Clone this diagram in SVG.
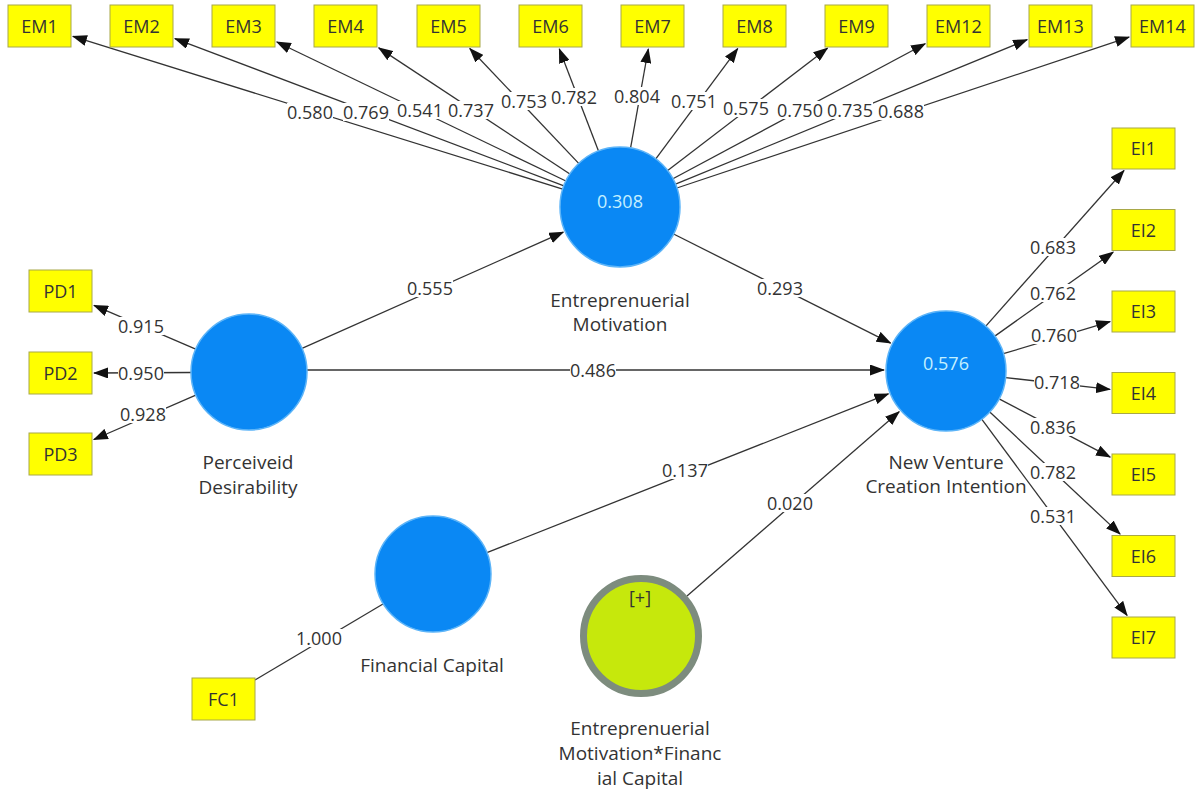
<svg xmlns="http://www.w3.org/2000/svg" width="1195" height="790" viewBox="0 0 1195 790">
<style>
text{font-family:"Open Sans","Noto Sans","Liberation Sans",sans-serif;fill:#333}
.ln{stroke:#333;stroke-width:1.3;fill:none}
.ar{marker-end:url(#ah)}
.bx{fill:#ffff00;stroke:#a8a848;stroke-width:1}
.bt{font-size:18px;text-anchor:middle}
.lv{fill:#0a88f4;stroke:#5cb4f8;stroke-width:1.5}
.nl{font-size:19px;text-anchor:middle}
.val{font-size:18px;text-anchor:middle;fill:#c4f0ff}
.lb rect{fill:#fff}
.lb text{font-size:18px;text-anchor:middle}
</style>
<defs>
<marker id="ah" viewBox="0 0 15 11" markerWidth="15" markerHeight="11" refX="14" refY="5.5" orient="auto" markerUnits="userSpaceOnUse">
<path d="M0,0 L15,5.5 L0,11 z" fill="#111"/>
</marker>
</defs>
<rect width="1195" height="790" fill="#fff"/>
<g id="connectors">
<line class="ln ar" x1="562.7" y1="189.1" x2="72.9" y2="36.4"/>
<line class="ln ar" x1="563.9" y1="185.8" x2="174.9" y2="38.6"/>
<line class="ln ar" x1="565.9" y1="181" x2="276.8" y2="42"/>
<line class="ln ar" x1="569.9" y1="174" x2="378.7" y2="47.9"/>
<line class="ln ar" x1="578.7" y1="163.4" x2="469.8" y2="48.5"/>
<line class="ln ar" x1="598.5" y1="151" x2="559.3" y2="48.9"/>
<line class="ln ar" x1="630.6" y1="147.9" x2="648.3" y2="49"/>
<line class="ln ar" x1="655.8" y1="158.8" x2="737.7" y2="48.6"/>
<line class="ln ar" x1="667.7" y1="170.5" x2="827.5" y2="48.2"/>
<line class="ln ar" x1="672.9" y1="178.7" x2="925.2" y2="43.7"/>
<line class="ln ar" x1="675.5" y1="184.2" x2="1027.2" y2="39.7"/>
<line class="ln ar" x1="676.9" y1="188" x2="1129.1" y2="37.1"/>
<line class="ln ar" x1="195.7" y1="349.1" x2="94" y2="305.4"/>
<line class="ln ar" x1="191" y1="372.5" x2="94" y2="373"/>
<line class="ln ar" x1="195.8" y1="395.1" x2="93.8" y2="439.5"/>
<line class="ln ar" x1="985.8" y1="326.1" x2="1124" y2="170.5"/>
<line class="ln ar" x1="994.8" y1="336.1" x2="1113.2" y2="252.2"/>
<line class="ln ar" x1="1003.4" y1="353.7" x2="1110.1" y2="321.6"/>
<line class="ln ar" x1="1005.6" y1="377.6" x2="1110" y2="389.3"/>
<line class="ln ar" x1="999.1" y1="398.8" x2="1110.2" y2="457.1"/>
<line class="ln ar" x1="989.8" y1="412" x2="1120.1" y2="534.1"/>
<line class="ln ar" x1="981.7" y1="419.2" x2="1127.1" y2="615.4"/>
<line class="ln ar" x1="302" y1="348.4" x2="563.3" y2="232.2"/>
<line class="ln ar" x1="673.6" y1="234" x2="890.6" y2="343.1"/>
<line class="ln ar" x1="307" y1="370" x2="884" y2="370"/>
<line class="ln ar" x1="486.9" y1="552.7" x2="888.4" y2="393.8"/>
<line class="ln ar" x1="687" y1="596" x2="899.2" y2="411.7"/>
<line class="ln" x1="383" y1="604" x2="255" y2="680"/>
<g class="lb">
<rect x="287" y="103" width="46" height="18"/><text x="310" y="118.5">0.580</text>
<rect x="343" y="103" width="46" height="18"/><text x="366" y="118.5">0.769</text>
<rect x="397" y="101" width="46" height="18"/><text x="420" y="116.5">0.541</text>
<rect x="448" y="101" width="46" height="18"/><text x="471" y="116.5">0.737</text>
<rect x="501" y="92" width="46" height="18"/><text x="524" y="107.5">0.753</text>
<rect x="551" y="88" width="46" height="18"/><text x="574" y="103.5">0.782</text>
<rect x="614" y="87" width="46" height="18"/><text x="637" y="102.5">0.804</text>
<rect x="671" y="92" width="46" height="18"/><text x="694" y="107.5">0.751</text>
<rect x="723" y="99" width="46" height="18"/><text x="746" y="114.5">0.575</text>
<rect x="777" y="101" width="46" height="18"/><text x="800" y="116.5">0.750</text>
<rect x="827" y="101" width="46" height="18"/><text x="850" y="116.5">0.735</text>
<rect x="878" y="102" width="46" height="18"/><text x="901" y="117.5">0.688</text>
<rect x="118" y="317" width="46" height="18"/><text x="141" y="332.5">0.915</text>
<rect x="118" y="364" width="46" height="18"/><text x="141" y="379.5">0.950</text>
<rect x="120" y="405" width="46" height="18"/><text x="143" y="420.5">0.928</text>
<rect x="1030" y="238" width="46" height="18"/><text x="1053" y="253.5">0.683</text>
<rect x="1030" y="284" width="46" height="18"/><text x="1053" y="299.5">0.762</text>
<rect x="1031" y="326" width="46" height="18"/><text x="1054" y="341.5">0.760</text>
<rect x="1034" y="373" width="46" height="18"/><text x="1057" y="388.5">0.718</text>
<rect x="1030" y="418" width="46" height="18"/><text x="1053" y="433.5">0.836</text>
<rect x="1030" y="463" width="46" height="18"/><text x="1053" y="478.5">0.782</text>
<rect x="1030" y="507" width="46" height="18"/><text x="1053" y="522.5">0.531</text>
<rect x="407" y="279" width="46" height="18"/><text x="430" y="294.5">0.555</text>
<rect x="757" y="279" width="46" height="18"/><text x="780" y="294.5">0.293</text>
<rect x="570" y="361" width="46" height="18"/><text x="593" y="376.5">0.486</text>
<rect x="662" y="461" width="46" height="18"/><text x="685" y="476.5">0.137</text>
<rect x="767" y="494" width="46" height="18"/><text x="790" y="509.5">0.020</text>
<rect x="296" y="629" width="46" height="18"/><text x="319" y="644.5">1.000</text>
</g>
</g>
<g id="EM1"><rect class="bx" x="8" y="5" width="63" height="42"/><text class="bt" x="39.5" y="33">EM1</text></g>
<g id="EM2"><rect class="bx" x="110" y="5" width="63" height="42"/><text class="bt" x="141.5" y="33">EM2</text></g>
<g id="EM3"><rect class="bx" x="212" y="5" width="63" height="42"/><text class="bt" x="243.5" y="33">EM3</text></g>
<g id="EM4"><rect class="bx" x="314" y="5" width="63" height="42"/><text class="bt" x="345.5" y="33">EM4</text></g>
<g id="EM5"><rect class="bx" x="417" y="5" width="63" height="42"/><text class="bt" x="448.5" y="33">EM5</text></g>
<g id="EM6"><rect class="bx" x="519" y="5" width="63" height="42"/><text class="bt" x="550.5" y="33">EM6</text></g>
<g id="EM7"><rect class="bx" x="621" y="5" width="63" height="42"/><text class="bt" x="652.5" y="33">EM7</text></g>
<g id="EM8"><rect class="bx" x="723" y="5" width="63" height="42"/><text class="bt" x="754.5" y="33">EM8</text></g>
<g id="EM9"><rect class="bx" x="825" y="5" width="63" height="42"/><text class="bt" x="856.5" y="33">EM9</text></g>
<g id="EM12"><rect class="bx" x="927" y="5" width="63" height="42"/><text class="bt" x="958.5" y="33">EM12</text></g>
<g id="EM13"><rect class="bx" x="1029" y="5" width="63" height="42"/><text class="bt" x="1060.5" y="33">EM13</text></g>
<g id="EM14"><rect class="bx" x="1131" y="5" width="63" height="42"/><text class="bt" x="1162.5" y="33">EM14</text></g>
<g id="PD1"><rect class="bx" x="29" y="270" width="63" height="42"/><text class="bt" x="60.5" y="297.5">PD1</text></g>
<g id="PD2"><rect class="bx" x="29" y="352" width="63" height="42"/><text class="bt" x="60.5" y="379.5">PD2</text></g>
<g id="PD3"><rect class="bx" x="29" y="433" width="63" height="42"/><text class="bt" x="60.5" y="460.5">PD3</text></g>
<g id="EI1"><rect class="bx" x="1112" y="128" width="63" height="41"/><text class="bt" x="1143.5" y="155">EI1</text></g>
<g id="EI2"><rect class="bx" x="1112" y="209.5" width="63" height="41"/><text class="bt" x="1143.5" y="236.5">EI2</text></g>
<g id="EI3"><rect class="bx" x="1112" y="291" width="63" height="41"/><text class="bt" x="1143.5" y="318">EI3</text></g>
<g id="EI4"><rect class="bx" x="1112" y="372.5" width="63" height="41"/><text class="bt" x="1143.5" y="399.5">EI4</text></g>
<g id="EI5"><rect class="bx" x="1112" y="454" width="63" height="41"/><text class="bt" x="1143.5" y="481">EI5</text></g>
<g id="EI6"><rect class="bx" x="1112" y="535.5" width="63" height="41"/><text class="bt" x="1143.5" y="562.5">EI6</text></g>
<g id="EI7"><rect class="bx" x="1112" y="617" width="63" height="41"/><text class="bt" x="1143.5" y="644">EI7</text></g>
<g id="FC1"><rect class="bx" x="192" y="678" width="63" height="42"/><text class="bt" x="223.5" y="705.5">FC1</text></g>
<g id="EntrepreneurialMotivation">
<circle class="lv" cx="620" cy="207" r="60"/>
<text class="val" x="620" y="208">0.308</text>
<text class="nl" x="620" y="307">Entreprenuerial</text>
<text class="nl" x="620" y="331">Motivation</text>
</g>
<g id="PerceivedDesirability">
<circle class="lv" cx="249" cy="372" r="58"/>
<text class="nl" x="248" y="469">Perceiveid</text>
<text class="nl" x="248" y="494">Desirability</text>
</g>
<g id="NewVentureCreationIntention">
<circle class="lv" cx="946" cy="371" r="60"/>
<text class="val" x="946" y="370">0.576</text>
<text class="nl" x="946" y="469">New Venture</text>
<text class="nl" x="946" y="493">Creation Intention</text>
</g>
<g id="FinancialCapital">
<circle class="lv" cx="433" cy="574" r="58"/>
<text class="nl" x="432" y="672">Financial Capital</text>
</g>
<g id="Moderator">
<circle cx="641" cy="636" r="57.5" fill="#c6e80c" stroke="#7d8c7e" stroke-width="7"/>
<text x="640" y="604" font-size="18" text-anchor="middle">[+]</text>
<text class="nl" x="640" y="735">Entreprenuerial</text>
<text class="nl" x="640" y="760">Motivation*Financ</text>
<text class="nl" x="640" y="785">ial Capital</text>
</g>
</svg>
